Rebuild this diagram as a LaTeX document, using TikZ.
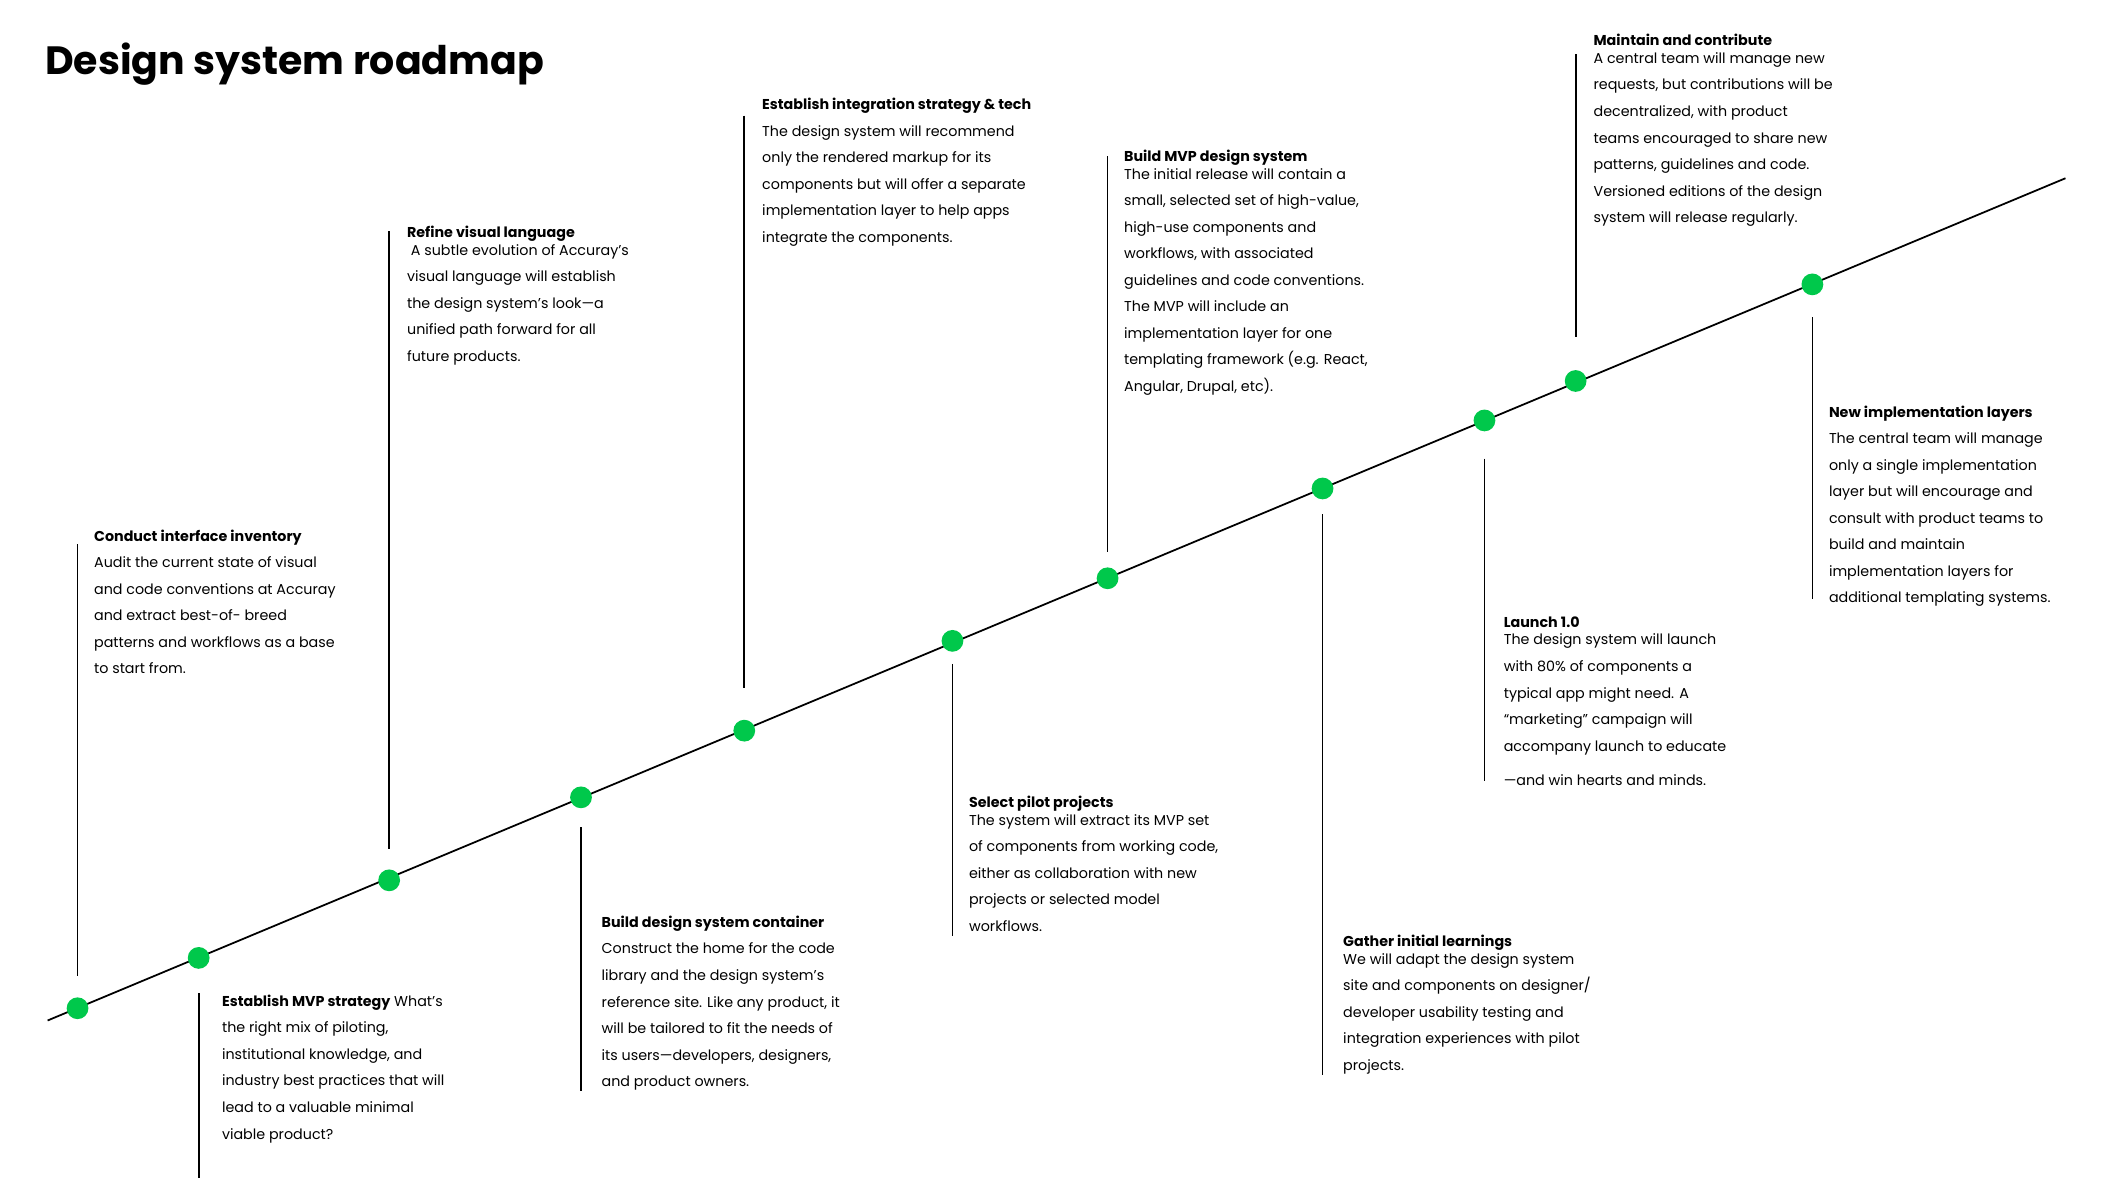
\documentclass[tikz,border=0pt]{standalone}
\usepackage{fontspec}
\setmainfont{Poppins}
\definecolor{dot}{RGB}{0,200,75}
\begin{document}
\begin{tikzpicture}[x=1pt,y=-1pt,
 stem/.style={line width=1.3pt,black},
 pt/.style={circle,fill=dot,inner sep=0,minimum size=16pt},
 txt/.style={anchor=north west,align=left,inner sep=0,font=\fontsize{10.5}{19.5}\selectfont},
 tt/.style={font=\bfseries}]
\useasboundingbox (0,0) rectangle (1550,871.7);
\node[anchor=base west,inner sep=0,font=\fontsize{29}{30}\selectfont\bfseries] (title) at (33,55) {Design system roadmap};
\coordinate (ls) at (35,750); \coordinate (le) at (1518,131);
\draw[line width=1.3pt] (ls) -- (le);
\foreach \n/\x/\y in {1/57/741,2/146/704,3/286/647,4/427/586,5/547/537,6/700/471,7/814/425,8/972/359,9/1091/309,10/1158/280,11/1332/209}
  \node[pt] (d\n) at (\x,\y) {};
\coordinate (s1) at (57,400); \coordinate (e1) at (57,717);
\coordinate (s2) at (146,730); \coordinate (e2) at (146,866);
\coordinate (s3) at (286,170); \coordinate (e3) at (286,624);
\coordinate (s4) at (427,608); \coordinate (e4) at (427,802);
\coordinate (s5) at (547,85); \coordinate (e5) at (547,506);
\coordinate (s6) at (700,488); \coordinate (e6) at (700,688);
\coordinate (s7) at (814,115); \coordinate (e7) at (814,406);
\coordinate (s8) at (972,378); \coordinate (e8) at (972,790);
\coordinate (s9) at (1091,337); \coordinate (e9) at (1091,574);
\coordinate (s10) at (1158,40); \coordinate (e10) at (1158,248);
\coordinate (s11) at (1332,233); \coordinate (e11) at (1332,440);
\foreach \n in {1,...,11} \draw[stem] (s\n) -- (e\n);
\node[txt] (t1) at (69,389) {{\bfseries Conduct interface inventory}\\Audit the current state of visual\\and code conventions at Accuray\\and extract best-of- breed\\patterns and workflows as a base\\to start from.};
\node[txt] (t2) at (163,731) {{\bfseries Establish MVP strategy} What’s\\the right mix of piloting,\\institutional knowledge, and\\industry best practices that will\\lead to a valuable minimal\\viable product?};
\node[txt] (t3) at (299,166) {{\bfseries Refine visual language}\\[-6.5pt]\ A subtle evolution of Accuray’s\\visual language will establish\\the design system’s look—a\\unified path forward for all\\future products.};
\node[txt] (t4) at (442,673) {{\bfseries Build design system container}\\Construct the home for the code\\library and the design system’s\\reference site. Like any product, it\\will be tailored to fit the needs of\\its users—developers, designers,\\and product owners.};
\node[txt] (t5) at (560,72) {{\bfseries Establish integration strategy \& tech}\\The design system will recommend\\only the rendered markup for its\\components but will offer a separate\\implementation layer to help apps\\integrate the components.};
\node[txt] (t6) at (712,585) {{\bfseries Select pilot projects}\\[-6.5pt]The system will extract its MVP set\\of components from working code,\\either as collaboration with new\\projects or selected model\\workflows.};
\node[txt] (t7) at (826,110) {{\bfseries Build MVP design system}\\[-6.5pt]The initial release will contain a\\small, selected set of high-value,\\high-use components and\\workflows, with associated\\guidelines and code conventions.\\The MVP will include an\\implementation layer for one\\templating framework (e.g. React,\\Angular, Drupal, etc).};
\node[txt] (t8) at (987,687) {{\bfseries Gather initial learnings}\\[-6.5pt]We will adapt the design system\\site and components on designer/\\developer usability testing and\\integration experiences with pilot\\projects.};
\node[txt] (t9) at (1105,453) {{\bfseries Launch 1.0}\\[-6.5pt]The design system will launch\\with 80\% of components a\\typical app might need. A\\“marketing” campaign will\\accompany launch to educate\\[5.5pt]—and win hearts and minds.};
\node[txt] (t10) at (1171,25) {{\bfseries Maintain and contribute}\\[-6.5pt]A central team will manage new\\requests, but contributions will be\\decentralized, with product\\teams encouraged to share new\\patterns, guidelines and code.\\Versioned editions of the design\\system will release regularly.};
\node[txt] (t11) at (1344,298) {{\bfseries New implementation layers}\\The central team will manage\\only a single implementation\\layer but will encourage and\\consult with product teams to\\build and maintain\\implementation layers for\\additional templating systems.};
\end{tikzpicture}
\end{document}
